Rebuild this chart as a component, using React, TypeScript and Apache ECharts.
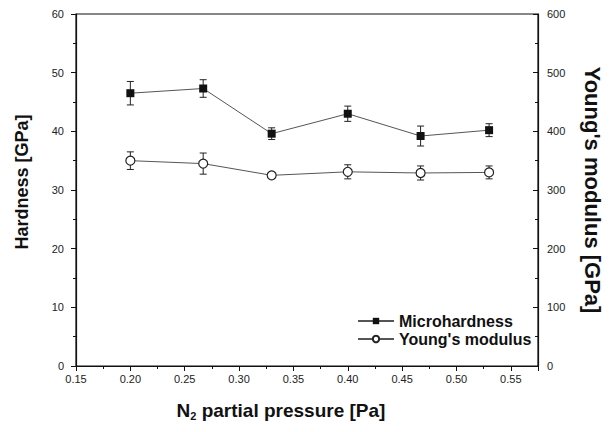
import React, { useEffect, useRef } from 'react';
import * as echarts from 'echarts';

const pressure = [0.2, 0.267, 0.33, 0.4, 0.467, 0.53];
const hardness = [46.5, 47.3, 39.6, 43.0, 39.2, 40.2];
const hardnessErr = [2.0, 1.5, 1.0, 1.3, 1.7, 1.1];
const modulus = [350, 345, 325, 331, 329, 330];
const modulusErr = [15, 18, 5, 12, 12, 11];
const seriesNames = ['Microhardness', "Young's modulus"];

const FONT = '"Liberation Sans", Arial, sans-serif';

function errorBarItem(params: any, api: any) {
  const x = api.value(0);
  const lo = api.coord([x, api.value(1)]);
  const hi = api.coord([x, api.value(2)]);
  const w = 3.5;
  const style = { stroke: '#222', lineWidth: 1 };
  return {
    type: 'group',
    children: [
      { type: 'line', shape: { x1: lo[0], y1: lo[1], x2: hi[0], y2: hi[1] }, style },
      { type: 'line', shape: { x1: lo[0] - w, y1: lo[1], x2: lo[0] + w, y2: lo[1] }, style },
      { type: 'line', shape: { x1: hi[0] - w, y1: hi[1], x2: hi[0] + w, y2: hi[1] }, style },
    ],
  };
}

export default function App() {
  const ref = useRef<HTMLDivElement>(null);
  useEffect(() => {
    if (!ref.current) return;
    const chart = echarts.init(ref.current, undefined, { renderer: 'svg' });
    const isMajor = (v: number) => Math.abs(v * 20 - Math.round(v * 20)) < 1e-6;
    const axisCommon = {
      axisLine: { show: true, lineStyle: { color: '#111', width: 1.2 } },
      splitLine: { show: false },
      axisLabel: { color: '#222', fontFamily: FONT, fontSize: 11 },
    };
    chart.setOption({
      animation: false,
      backgroundColor: '#fff',
      grid: { left: 76, right: 76, top: 14, bottom: 66, show: true, borderColor: '#111', borderWidth: 1.2 },
      legend: {
        data: seriesNames,
        orient: 'vertical',
        left: 357,
        top: 313,
        padding: 0,
        itemWidth: 36,
        itemHeight: 8,
        itemGap: 2,
        textStyle: { fontFamily: FONT, fontSize: 16, fontWeight: 'bold', color: '#111' },
      },
      xAxis: {
        type: 'value',
        min: 0.15,
        max: 0.575,
        interval: 0.05,
        ...axisCommon,
        axisTick: { show: true, length: 5, lineStyle: { color: '#111' } },
        minorTick: { show: true, splitNumber: 2, length: 3, lineStyle: { color: '#111' } },
        axisLabel: {
          ...axisCommon.axisLabel,
          margin: 7,
          formatter: (v: number) => (isMajor(v) ? v.toFixed(2) : ''),
        },
        name: 'N{sub|2} partial pressure [Pa]',
        nameLocation: 'middle',
        nameGap: 33,
        nameTextStyle: {
          fontFamily: FONT,
          fontSize: 19,
          fontWeight: 'bold',
          color: '#111',
          padding: [0, 52, 0, 0],
          rich: { sub: { fontFamily: FONT, fontSize: 11, fontWeight: 'bold', color: '#111', verticalAlign: 'bottom', padding: [11, 0, 0, 0] } },
        },
      },
      yAxis: [
        {
          type: 'value',
          min: 0,
          max: 60,
          interval: 10,
          position: 'left',
          ...axisCommon,
          axisTick: { show: true, length: 5, lineStyle: { color: '#111' } },
          minorTick: { show: true, splitNumber: 2, length: 3, lineStyle: { color: '#111' } },
          axisLabel: { ...axisCommon.axisLabel, margin: 12 },
          name: 'Hardness [GPa]',
          nameLocation: 'middle',
          nameRotate: 90,
          nameGap: 45,
          nameTextStyle: { fontFamily: FONT, fontSize: 18, fontWeight: 'bold', color: '#111', padding: [0, 0, 0, 16] },
        },
        {
          type: 'value',
          min: 0,
          max: 600,
          interval: 100,
          position: 'right',
          ...axisCommon,
          axisTick: { show: true, inside: true, length: 5, lineStyle: { color: '#111' } },
          minorTick: { show: true, splitNumber: 2, length: 3, lineStyle: { color: '#111' } },
          axisLabel: { ...axisCommon.axisLabel, margin: 9 },
          name: "Young's modulus [GPa]",
          nameLocation: 'middle',
          nameRotate: -90,
          nameGap: 43,
          nameTextStyle: { fontFamily: FONT, fontSize: 22, fontWeight: 'bold', color: '#111' },
        },
      ],
      series: [
        {
          type: 'custom',
          yAxisIndex: 0,
          z: 1,
          renderItem: errorBarItem,
          data: pressure.map((p, i) => [p, hardness[i] - hardnessErr[i], hardness[i] + hardnessErr[i]]),
        },
        {
          type: 'custom',
          yAxisIndex: 1,
          z: 1,
          renderItem: errorBarItem,
          data: pressure.map((p, i) => [p, modulus[i] - modulusErr[i], modulus[i] + modulusErr[i]]),
        },
        {
          name: seriesNames[0],
          type: 'line',
          yAxisIndex: 0,
          z: 3,
          symbol: 'rect',
          symbolSize: 8,
          lineStyle: { color: '#555', width: 1 },
          itemStyle: { color: '#111', borderColor: '#111', borderWidth: 0 },
          data: pressure.map((p, i) => [p, hardness[i]]),
        },
        {
          name: seriesNames[1],
          type: 'line',
          yAxisIndex: 1,
          z: 3,
          symbol: 'circle',
          symbolSize: 9,
          lineStyle: { color: '#555', width: 1 },
          itemStyle: { color: '#fff', borderColor: '#222', borderWidth: 1.2 },
          data: pressure.map((p, i) => [p, modulus[i]]),
        },
      ],
    });
    return () => chart.dispose();
  }, []);
  return <div ref={ref} style={{ position: 'fixed', left: 0, top: 0, width: 614, height: 432 }} />;
}
